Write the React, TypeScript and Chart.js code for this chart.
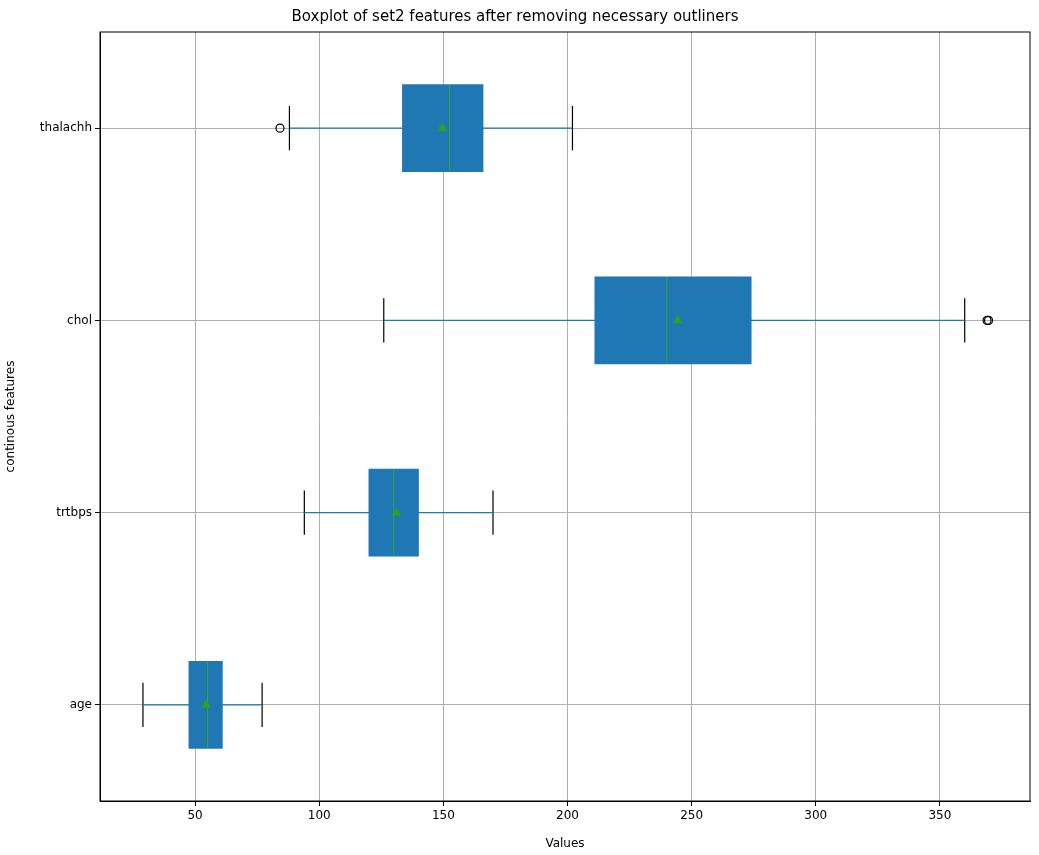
import React, { useEffect, useRef } from "react";
import { Chart, registerables } from "chart.js";
Chart.register(...registerables);

const categories = ["age", "trtbps", "chol", "thalachh"];
const whiskerLow = [29, 94, 126, 88];
const q1 = [47.5, 120, 211, 133.5];
const medians = [55, 130, 240, 152.5];
const q3 = [61, 140, 274, 166];
const whiskerHigh = [77, 170, 360, 202];
const means = [54.4, 131, 244.5, 149.5];
const outliers: { x: number; y: number }[] = [
  { x: 84.2, y: 3 },
  { x: 369, y: 2 },
  { x: 369.6, y: 2 },
];
const xTicks = [50, 100, 150, 200, 250, 300, 350];

const BLUE = "#1f77b4";
const GREEN = "#2ca02c";

export default function App() {
  const ref = useRef<HTMLCanvasElement>(null);
  useEffect(() => {
    document.body.style.margin = "0";
    const whiskers: any[] = [];
    const caps: any[] = [];
    const meds: any[] = [];
    categories.forEach((_, i) => {
      whiskers.push({ x: whiskerLow[i], y: i }, { x: whiskerHigh[i], y: i }, { x: NaN, y: null });
      caps.push({ x: whiskerLow[i], y: i - 0.115 }, { x: whiskerLow[i], y: i + 0.115 }, { x: NaN, y: null });
      caps.push({ x: whiskerHigh[i], y: i - 0.115 }, { x: whiskerHigh[i], y: i + 0.115 }, { x: NaN, y: null });
      meds.push({ x: medians[i], y: i - 0.225 }, { x: medians[i], y: i + 0.225 }, { x: NaN, y: null });
    });
    const frame = {
      id: "frame",
      afterDraw(c: any) {
        const a = c.chartArea;
        const ctx = c.ctx;
        ctx.save();
        ctx.strokeStyle = "#000";
        ctx.lineWidth = 1;
        ctx.strokeRect(a.left, a.top, a.right - a.left, a.bottom - a.top);
        ctx.restore();
      },
    };
    const chart = new Chart(ref.current!, {
      type: "scatter",
      data: {
        datasets: [
          { type: "line", data: whiskers, borderColor: BLUE, borderWidth: 1.2, pointRadius: 0, spanGaps: false, order: 5 } as any,
          { type: "line", data: caps, borderColor: "#000", borderWidth: 1.2, pointRadius: 0, spanGaps: false, order: 5 } as any,
          {
            type: "bar",
            data: categories.map((_, i) => ({ x: [q1[i], q3[i]], y: i })),
            backgroundColor: BLUE,
            barThickness: 87,
            order: 4,
          } as any,
          { type: "line", data: meds, borderColor: "#3aa53a", borderWidth: 1, pointRadius: 0, spanGaps: false, order: 3 } as any,
          {
            data: means.map((m, i) => ({ x: m, y: i })),
            pointStyle: "triangle",
            pointRadius: 5,
            backgroundColor: GREEN,
            borderColor: GREEN,
            order: 1,
          },
          {
            data: outliers,
            pointRadius: 4,
            backgroundColor: "rgba(0,0,0,0)",
            borderColor: "#000",
            borderWidth: 1.2,
            order: 1,
          },
        ],
      },
      options: {
        animation: false,
        responsive: false,
        indexAxis: "y",
        layout: { padding: { right: 9, left: 0 } },
        plugins: {
          legend: { display: false },
          tooltip: { enabled: false },
          title: {
            display: true,
            text: "Boxplot of set2 features after removing necessary outliners",
            color: "#000",
            font: { family: "DejaVu Sans", size: 15, weight: "normal" },
            padding: { top: 8, bottom: 6 },
          },
        },
        scales: {
          x: {
            type: "linear",
            min: 11.7,
            max: 386.3,
            offset: false,
            afterBuildTicks: (s: any) => { s.ticks = xTicks.map((v) => ({ value: v })); },
            afterFit: (s: any) => { s.height = 54; },
            grid: { color: "#b0b0b0", offset: false, drawTicks: true, tickLength: 5, tickColor: "#000" },
            border: { color: "#000" },
            ticks: { color: "#000", font: { family: "DejaVu Sans", size: 12 } },
            title: { display: true, text: "Values", color: "#000", font: { family: "DejaVu Sans", size: 12 }, padding: { top: 2 } },
          },
          y: {
            type: "linear",
            min: -0.5,
            max: 3.5,
            offset: false,
            afterBuildTicks: (s: any) => { s.ticks = categories.map((_, i) => ({ value: i })); },
            afterFit: (s: any) => { s.width = 100; },
            grid: { color: "#b0b0b0", offset: false, tickLength: 5, tickColor: "#000" },
            border: { color: "#000" },
            ticks: {
              color: "#000",
              font: { family: "DejaVu Sans", size: 12 },
              callback: (v: any) => categories[v] ?? "",
            },
            title: { display: true, text: "continous features", color: "#000", font: { family: "DejaVu Sans", size: 12 }, padding: { top: 4 } },
          },
        },
      } as any,
      plugins: [frame],
    });
    return () => chart.destroy();
  }, []);
  return <canvas ref={ref} width={1039} height={855} style={{ display: "block" }} />;
}
